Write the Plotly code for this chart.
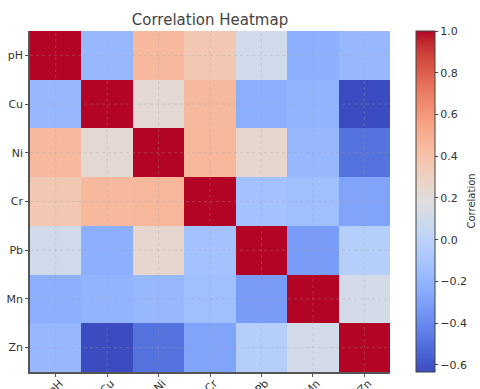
import plotly.graph_objects as go

labels = ["pH", "Cu", "Ni", "Cr", "Pb", "Mn", "Zn"]

corr = [
    [1.00, -0.18, 0.45, 0.36, 0.10, -0.23, -0.18],
    [-0.18, 1.00, 0.23, 0.45, -0.23, -0.20, -0.634],
    [0.45, 0.23, 1.00, 0.46, 0.25, -0.18, -0.49],
    [0.36, 0.45, 0.46, 1.00, -0.12, -0.14, -0.28],
    [0.10, -0.23, 0.25, -0.12, 1.00, -0.32, -0.03],
    [-0.23, -0.20, -0.18, -0.14, -0.32, 1.00, 0.12],
    [-0.18, -0.634, -0.49, -0.28, -0.03, 0.12, 1.00],
]

cw = [
    (59, 76, 192), (68, 90, 204), (77, 104, 215), (87, 117, 225), (98, 130, 234),
    (108, 142, 241), (119, 154, 247), (130, 165, 251), (141, 176, 254), (152, 185, 255),
    (163, 194, 255), (174, 201, 253), (184, 208, 249), (194, 213, 244), (204, 217, 238),
    (213, 219, 230), (221, 221, 221), (229, 216, 209), (236, 211, 197), (241, 204, 185),
    (245, 196, 173), (247, 187, 160), (247, 177, 148), (247, 166, 135), (244, 154, 123),
    (241, 141, 111), (236, 127, 99), (229, 112, 88), (222, 96, 77), (213, 80, 66),
    (203, 62, 56), (192, 40, 47), (180, 4, 38),
]
colorscale = [[i / (len(cw) - 1), "rgb(%d,%d,%d)" % c] for i, c in enumerate(cw)]

font = "DejaVu Sans"
txt = "#333333"

fig = go.Figure(go.Heatmap(
    z=corr, x=labels, y=labels,
    colorscale=colorscale, zmin=-0.634, zmax=1.0,
    colorbar=dict(
        thickness=19, len=1.0, lenmode="fraction", y=0.5, yanchor="middle",
        x=(416 - 30) / 360, xanchor="left", xpad=0, ypad=0,
        outlinewidth=1, outlinecolor="#444444",
        tickmode="linear", tick0=0, dtick=0.2, tickformat=".1f",
        ticks="outside", ticklen=3, tickcolor="#444444",
        tickfont=dict(size=11, color=txt, family=font),
    ),
))

shapes = []
for lab in labels:
    shapes.append(dict(type="line", xref="x", yref="paper", x0=lab, x1=lab, y0=0, y1=1,
                       line=dict(color="rgba(160,160,160,0.4)", width=0.8, dash="dot"), layer="above"))
    shapes.append(dict(type="line", xref="paper", yref="y", x0=0, x1=1, y0=lab, y1=lab,
                       line=dict(color="rgba(160,160,160,0.4)", width=0.8, dash="dot"), layer="above"))

fig.update_layout(
    width=480, height=389,
    margin=dict(l=30, r=90, t=31, b=17, autoexpand=False),
    paper_bgcolor="white", plot_bgcolor="white",
    title=dict(text="Correlation Heatmap", x=210 / 480, xanchor="center",
               y=1 - 20 / 389, yanchor="middle",
               font=dict(size=15, color="#444444", family=font)),
    font=dict(family=font, color=txt),
    shapes=shapes,
    annotations=[dict(text="Correlation", textangle=-90, xref="paper", yref="paper",
                      x=(471 - 30) / 360, y=0.5, xanchor="center", yanchor="middle",
                      showarrow=False, font=dict(size=10, color=txt, family=font))],
)
fig.update_xaxes(showgrid=False, showline=True, linecolor="#555555", linewidth=1.5,
                 ticks="outside", ticklen=3, tickcolor="#555555", tickangle=-45,
                 ticklabelshift=4, ticklabelstandoff=-4,
                 tickfont=dict(size=11, color=txt, family=font), mirror=False, zeroline=False,
                 automargin=False)
fig.update_yaxes(showgrid=False, showline=True, linecolor="#555555", linewidth=1.5,
                 ticks="outside", ticklen=3, tickcolor="#555555", autorange="reversed",
                 tickfont=dict(size=11, color=txt, family=font), zeroline=False,
                 automargin=False)

fig.write_html("out.html")
